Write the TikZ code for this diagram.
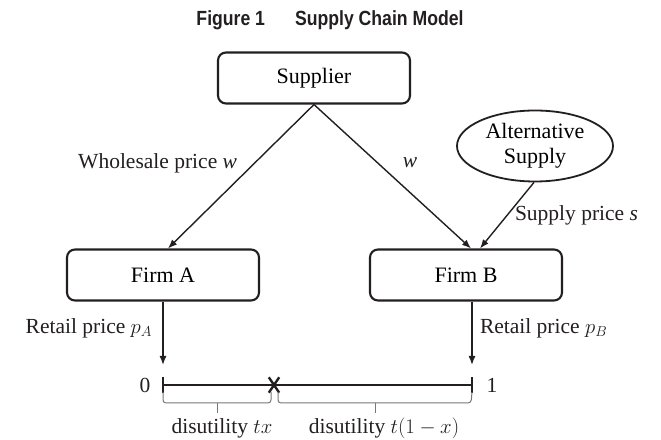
\documentclass[tikz,border=0pt]{standalone}
\usepackage{fontspec}
\setmainfont{Liberation Serif}
\newfontfamily\titlefont[FakeStretch=0.86]{Liberation Sans}
\usetikzlibrary{arrows.meta,shapes.geometric,shapes.misc}

\begin{document}
\begin{tikzpicture}[x=1pt,y=1pt,
  box/.style={draw=drawColor,line width=2.1pt,rounded corners=8pt,minimum width=192pt,minimum height=51pt,inner sep=0pt,font=\fontsize{22}{26}\selectfont},
  lbl/.style={text=drawColor,inner sep=0pt,outer sep=0pt,font=\fontsize{21.5}{25}\selectfont},
  arr/.style={draw=drawColor,line width=1.4pt,-{Latex[length=9pt,width=7pt]}},
  brk/.style={draw=braceColor,line width=1pt,rounded corners=3pt}]
\definecolor{fillColor}{RGB}{255,255,255}
\definecolor{drawColor}{RGB}{35,31,32}
\definecolor{braceColor}{RGB}{120,120,120}
\path[use as bounding box,fill=fillColor] (0,0) rectangle (661,439);

% title
\node[text=drawColor,inner sep=0pt] (title) at (330,419) {\titlefont\bfseries\fontsize{20.5}{23}\selectfont Figure 1\hspace{30pt}Supply Chain Model};

% parties
\node[box] (supplier) at (314,361) {Supplier};
\node[box] (firmA) at (163,164) {Firm A};
\node[box] (firmB) at (466,164) {Firm B};
\node[draw=drawColor,line width=1.8pt,ellipse,minimum width=156pt,minimum height=71pt,inner sep=0pt,align=center,font=\fontsize{22}{25}\selectfont] (alt) at (535,293) {Alternative\\Supply};

% consumer line
\coordinate (zero) at (163,54);
\coordinate (one) at (472,54);
\coordinate (pA) at (163,74);
\coordinate (pB) at (472,74);
\path[draw=drawColor,line width=2.6pt] (zero) -- (one);
\path[draw=drawColor,line width=2.6pt] ([yshift=-8pt]zero) -- ([yshift=8pt]zero);
\path[draw=drawColor,line width=2.6pt] ([yshift=-8pt]one) -- ([yshift=8pt]one);
\node[cross out,draw=drawColor,line width=2.4pt,minimum width=8pt,minimum height=13pt,inner sep=0pt] (xmark) at (274,54) {};
\node[lbl] (lab0) at (145,54) {0};
\node[lbl] (lab1) at (492,54) {1};

% prices
\draw[arr] (supplier.south) -- ([xshift=5pt]firmA.north);
\draw[arr] (supplier.south) -- ([xshift=5pt]firmB.north);
\draw[arr] ([xshift=-1pt]alt.south) -- ([xshift=14pt]firmB.north);
\draw[arr] (firmA.south) -- (pA);
\draw[arr] (firmB.south -| one) -- (pB);

\node[lbl,anchor=east] (wA) at (237,276) {Wholesale price \textit{w}};
\node[lbl] (wB) at (410,276) {\textit{w}};
\node[lbl,anchor=west] (sB) at (515,224) {Supply price \textit{s}};
\node[lbl,anchor=east] (rA) at (152,111) {Retail price $p_A$};
\node[lbl,anchor=west] (rB) at (480,111) {Retail price $p_B$};

% disutility brackets
\path[brk] ([yshift=-7pt]zero) -- (163,36) -- (271,36) -- (271,47);
\path[brk] (217,36) -- (217,26);
\path[brk] (278,47) -- (278,36) -- (471,36) -- ([yshift=-7pt]one);
\path[brk] (375,36) -- (375,26);
\node[lbl] (dA) at (222,11) {disutility $tx$};
\node[lbl] (dB) at (384,11) {disutility $t(1-x)$};
\end{tikzpicture}
\end{document}
